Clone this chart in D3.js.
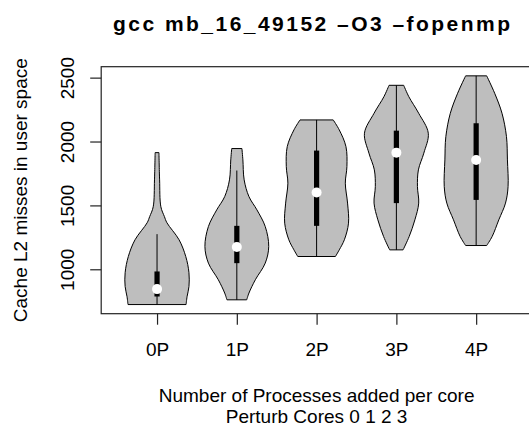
<!DOCTYPE html>
<html>
<head>
<meta charset="utf-8">
<script src="https://cdn.jsdelivr.net/npm/d3@7"></script>
<style>
  body { margin: 0; background: #fff; }
  svg { display: block; }
</style>
</head>
<body>
<div class="violin-wrapper"></div>
<script>

const categories = ['0P', '1P', '2P', '3P', '4P']
const yTicks = [1000, 1500, 2000, 2500]

// box-and-whisker summary, one value per category
const whiskerLo = [724, 761, 1100, 1152, 1186]
const q1 = [787, 1048, 1340, 1518, 1543]
const medians = [845, 1174, 1601, 1913, 1856]
const q3 = [983, 1340, 1929, 2085, 2143]
const whiskerHi = [1275, 1773, 2169, 2440, 2514]

// violin outlines: value along y and relative half width (1 = widest)
const outlineValues = [
	[724, 785, 865, 973, 1100, 1231, 1364, 1413, 1489, 1700, 1913],
	[761, 814, 918, 1048, 1178, 1335, 1465, 1569, 1700, 1856, 1945],
	[1100, 1152, 1231, 1361, 1518, 1674, 1804, 1960, 2091, 2169],
	[1152, 1256, 1387, 1518, 1647, 1778, 1909, 2065, 2221, 2351, 2440],
	[1186, 1256, 1387, 1518, 1647, 1856, 2038, 2221, 2378, 2514]
]
const outlineWidths = [
	[0.91, 0.94, 1.0, 1.0, 0.9, 0.69, 0.31, 0.23, 0.12, 0.08, 0.06],
	[0.31, 0.38, 0.58, 0.89, 1.0, 0.89, 0.63, 0.38, 0.23, 0.19, 0.16],
	[0.59, 0.71, 0.87, 1.0, 0.97, 0.9, 0.95, 0.92, 0.71, 0.52],
	[0.21, 0.4, 0.58, 0.7, 0.66, 0.69, 0.86, 1.0, 0.7, 0.39, 0.23],
	[0.33, 0.5, 0.71, 0.92, 1.0, 0.98, 0.95, 0.81, 0.58, 0.33]
]

const width = 529
const height = 431
const font = '"Liberation Sans", Arial, Helvetica, sans-serif'

const margin = {left: 101.2, top: 66.7, right: -3, bottom: 117.3}

let svg = d3.select('.violin-wrapper').append('svg')
.attr('width', width)
.attr('height', height)

// R style 4% padding around the data range
let dataMin = d3.min(whiskerLo)
let dataMax = d3.max(whiskerHi)
let pad = (dataMax - dataMin) * 0.04

let xScale = d3.scaleLinear()
.domain([0.3, categories.length + 0.7])
.range([margin.left, width - margin.right])

let yScale = d3.scaleLinear()
.domain([dataMin - pad, dataMax + pad])
.range([height - margin.bottom, margin.top])

let step = xScale(2) - xScale(1)
let wScale = d3.scaleLinear().domain([0, 1]).range([0, 0.4 * step])

let violins = svg.append('g')
let boxes = svg.append('g')
let axis = svg.append('g')

categories.forEach((cat, i) => {

	let cx = xScale(i + 1)
	let pts = outlineValues[i].map((v, j) => ({v: v, w: outlineWidths[i][j]}))

	let area = d3.area()
	.curve(d3.curveCatmullRom.alpha(0.5))
	.y(d => yScale(d.v))
	.x0(d => cx - wScale(d.w))
	.x1(d => cx + wScale(d.w))

	violins.append('path')
	.datum(pts)
	.attr('d', area)
	.attr('fill', '#bebebe')
	.attr('stroke', '#000')
	.attr('stroke-width', 1)

	boxes.append('line')
	.attr('x1', cx).attr('x2', cx)
	.attr('y1', yScale(whiskerLo[i]))
	.attr('y2', yScale(whiskerHi[i]))
	.attr('stroke', '#000')
	.attr('stroke-width', 1)

	boxes.append('rect')
	.attr('x', cx - 2.6)
	.attr('width', 5.2)
	.attr('y', yScale(q3[i]))
	.attr('height', yScale(q1[i]) - yScale(q3[i]))
	.attr('fill', '#000')

	boxes.append('circle')
	.attr('cx', cx)
	.attr('cy', yScale(medians[i]))
	.attr('r', 5)
	.attr('fill', '#fff')

})

// plot frame
axis.append('rect')
.attr('x', xScale.range()[0])
.attr('y', margin.top)
.attr('width', xScale.range()[1] - xScale.range()[0])
.attr('height', yScale.range()[0] - margin.top)
.attr('fill', 'none')
.attr('stroke', '#222')
.attr('stroke-width', 1.2)

let yaxis = axis.append('g')
.attr('transform', 'translate(' + margin.left + ',0)')
.call(
	d3.axisLeft(yScale)
	.tickValues(yTicks)
	.tickSize(11)
	.tickSizeOuter(0)
)
yaxis.select('.domain').remove()
yaxis.selectAll('line').attr('stroke', '#222').attr('stroke-width', 1.2)
yaxis.selectAll('text')
.attr('x', null)
.attr('dy', null)
.attr('transform', 'translate(-27,0) rotate(-90)')
.attr('text-anchor', 'middle')
.attr('font-size', 19)
.attr('font-family', font)
.attr('fill', '#000')
.text(d => d)

let xaxis = axis.append('g')
.attr('transform', 'translate(0,' + yScale.range()[0] + ')')
.call(
	d3.axisBottom(xScale)
	.tickValues(categories.map((d, i) => i + 1))
	.tickSize(11)
	.tickSizeOuter(0)
)
xaxis.select('.domain').remove()
xaxis.selectAll('line').attr('stroke', '#222').attr('stroke-width', 1.2)
xaxis.selectAll('text')
.attr('y', 42.3)
.attr('dy', null)
.attr('font-size', 19)
.attr('font-family', font)
.attr('fill', '#000')
.text(d => categories[d - 1])

// titles
let midX = (xScale.range()[0] + xScale.range()[1]) / 2

svg.append('text')
.attr('x', 311.5)
.attr('y', 31)
.attr('text-anchor', 'middle')
.attr('font-family', font)
.attr('font-weight', 'bold')
.attr('font-size', 21)
.attr('textLength', 397)
.attr('lengthAdjust', 'spacing')
.text('gcc mb_16_49152 \u2013O3 \u2013fopenmp')

svg.append('text')
.attr('x', midX)
.attr('y', 401.7)
.attr('text-anchor', 'middle')
.attr('font-family', font)
.attr('font-size', 19)
.text('Number of Processes added per core')

svg.append('text')
.attr('x', midX)
.attr('y', 423.3)
.attr('text-anchor', 'middle')
.attr('font-family', font)
.attr('font-size', 19)
.text('Perturb Cores 0 1 2 3')

svg.append('text')
.attr('transform', 'translate(26.6,' + ((margin.top + yScale.range()[0]) / 2) + ') rotate(-90)')
.attr('text-anchor', 'middle')
.attr('font-family', font)
.attr('font-size', 19)
.text('Cache L2 misses in user space')

</script>
</body>
</html>
